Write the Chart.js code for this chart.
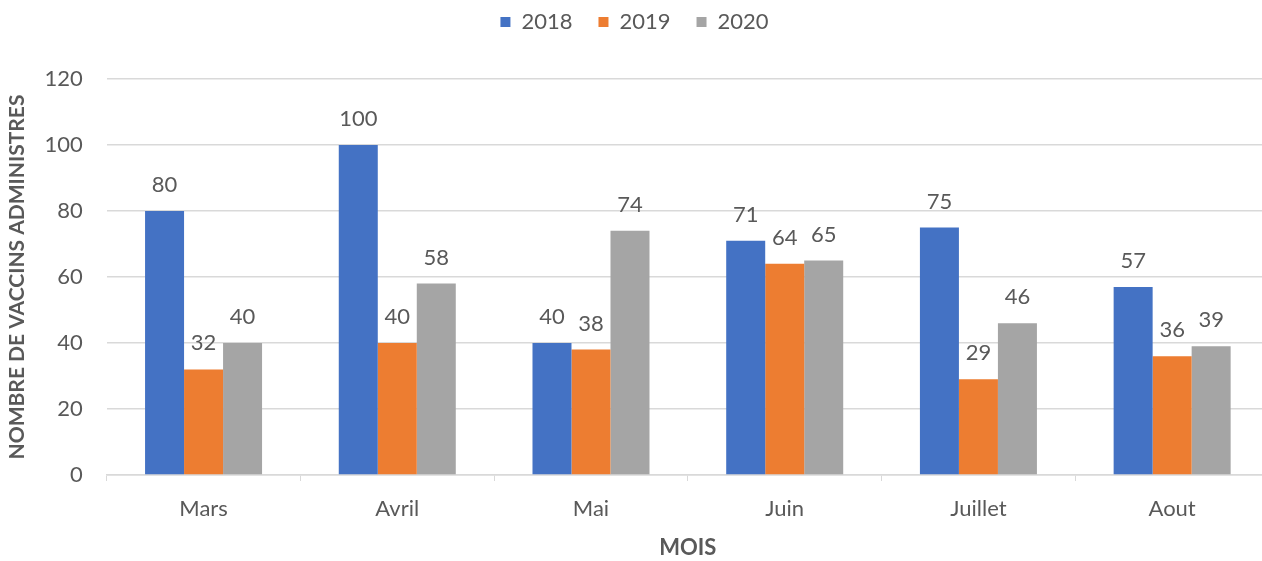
<!DOCTYPE html>
<html>
<head>
<meta charset="utf-8">
<script src="https://cdn.jsdelivr.net/npm/chart.js@4/dist/chart.umd.min.js"></script>
<style>
  html, body { margin: 0; padding: 0; background: #ffffff; overflow: hidden; }
  #wrap { position: relative; width: 1269px; height: 561px; }
</style>
</head>
<body>
<div id="wrap"><canvas id="c"></canvas></div>
<script>
const categories = ['Mars', 'Avril', 'Mai', 'Juin', 'Juillet', 'Aout'];
const seriesNames = ['2018', '2019', '2020'];
const values2018 = [80, 100, 40, 71, 75, 57];
const values2019 = [32, 40, 38, 64, 29, 36];
const values2020 = [40, 58, 74, 65, 46, 39];
const yTicks = [0, 20, 40, 60, 80, 100, 120];
const colors = ['#4472C4', '#ED7D31', '#A5A5A5'];

const FONT = 'Lato, "Open Sans", sans-serif';
const TEXT = '#595959';

const valueLabels = {
  id: 'valueLabels',
  afterDatasetsDraw(chart) {
    const ctx = chart.ctx;
    ctx.save();
    ctx.font = '22px ' + FONT;
    ctx.fillStyle = TEXT;
    ctx.textAlign = 'center';
    ctx.textBaseline = 'alphabetic';
    chart.data.datasets.forEach((ds, i) => {
      const meta = chart.getDatasetMeta(i);
      meta.data.forEach((el, j) => {
        ctx.fillText(String(ds.data[j]), el.x, el.y - 19);
      });
    });
    ctx.restore();
  }
};

const legendSpace = {
  id: 'legendSpace',
  beforeUpdate(chart) {
    const lg = chart.legend;
    if (lg && !lg._patched) {
      const orig = lg.fit;
      lg.fit = function () { orig.call(this); this.height = 94; };
      lg._patched = true;
    }
  }
};

new Chart(document.getElementById('c'), {
  type: 'bar',
  data: {
    labels: categories,
    datasets: [
      { label: seriesNames[0], data: values2018, backgroundColor: colors[0] },
      { label: seriesNames[1], data: values2019, backgroundColor: colors[1] },
      { label: seriesNames[2], data: values2020, backgroundColor: colors[2] }
    ]
  },
  options: {
    responsive: true,
    maintainAspectRatio: false,
    animation: false,
    layout: { padding: { top: -15, left: 0, right: 0, bottom: 0 } },
    datasets: { bar: { categoryPercentage: 0.604, barPercentage: 1.0 } },
    plugins: {
      legend: {
        position: 'top',
        labels: {
          color: TEXT,
          font: { family: FONT, size: 22 },
          boxWidth: 10,
          boxHeight: 10,
          padding: 26
        }
      },
      tooltip: { enabled: false }
    },
    scales: {
      x: {
        offset: true,
        grid: {
          display: true,
          offset: true,
          drawOnChartArea: false,
          drawTicks: true,
          tickLength: 6,
          color: '#d9d9d9'
        },
        border: { display: true, color: '#d9d9d9', width: 1.5 },
        ticks: { color: TEXT, font: { family: FONT, size: 22 }, padding: 15, maxRotation: 0 },
        title: {
          display: true,
          text: 'MOIS',
          color: TEXT,
          font: { family: FONT, size: 22, weight: 'bold', lineHeight: 1.2 },
          padding: { top: 0, bottom: 0 }
        },
        afterFit(scale) { scale.height = 86; }
      },
      y: {
        min: 0,
        max: 120,
        afterBuildTicks(scale) { scale.ticks = yTicks.map(v => ({ value: v })); },
        grid: { color: '#d9d9d9', lineWidth: 1.5, drawTicks: false },
        border: { display: false },
        ticks: { color: TEXT, font: { family: FONT, size: 22 }, padding: 24 },
        title: {
          display: true,
          text: 'NOMBRE DE VACCINS ADMINISTRES',
          color: TEXT,
          font: { family: FONT, size: 21, weight: 'bold', lineHeight: 1.2 },
          padding: { top: 5, bottom: 0 }
        },
        afterFit(scale) { scale.width = 106.7; }
      }
    }
  },
  plugins: [valueLabels, legendSpace]
});
</script>
</body>
</html>
